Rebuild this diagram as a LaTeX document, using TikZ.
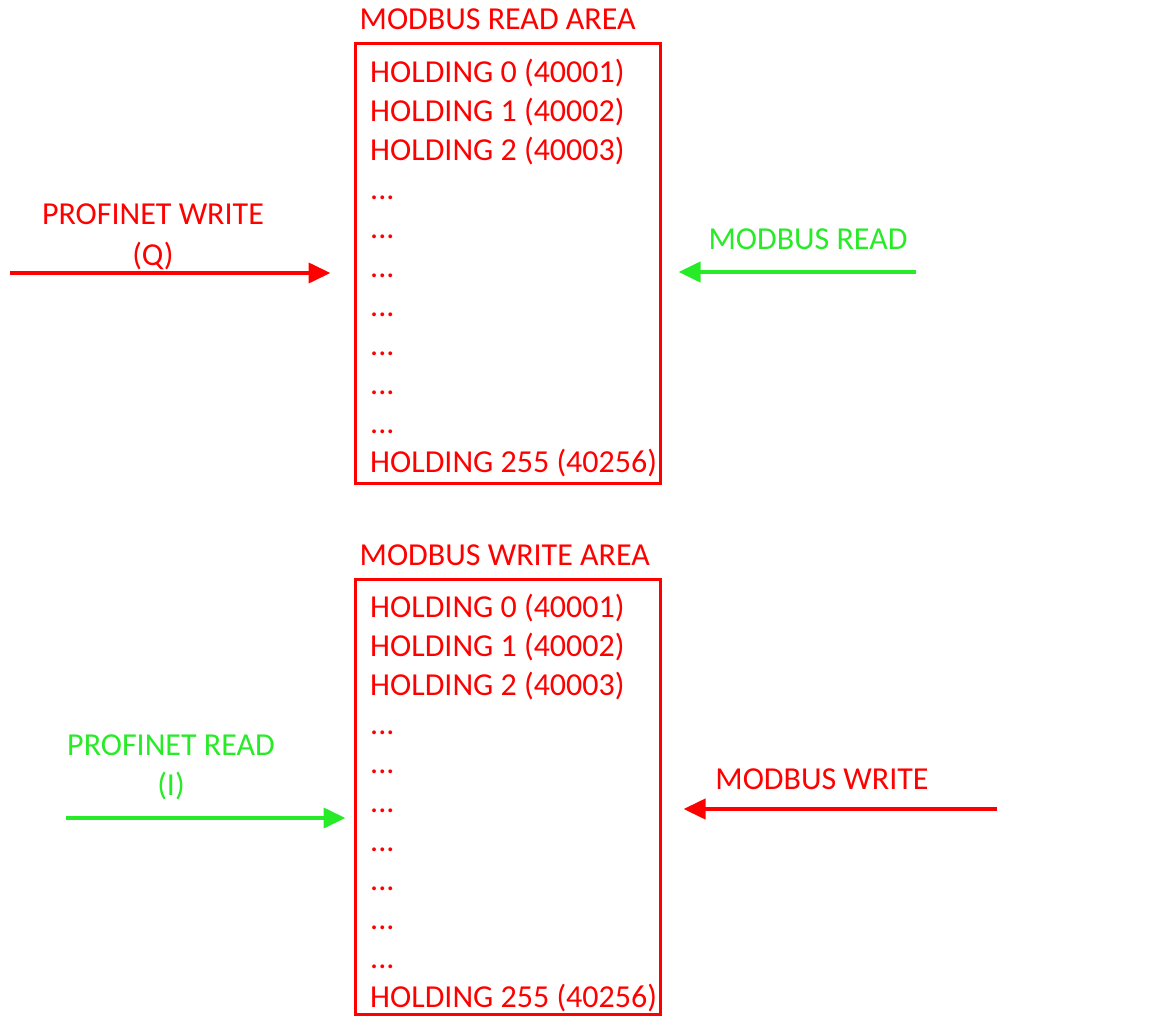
\documentclass[tikz,border=0pt]{standalone}
\usepackage{fontspec}
\setmainfont{Carlito}
\usetikzlibrary{arrows.meta,positioning,calc}
\definecolor{modred}{RGB}{255,0,0}
\definecolor{modgreen}{RGB}{40,235,40}
\tikzset{
  bigfont/.style={font=\fontsize{32}{39}\selectfont},
  areabox/.style={draw=modred, line width=3pt, minimum width=305pt, inner sep=0pt},
  arearows/.style={text=modred, bigfont, align=left, inner sep=0pt, anchor=north west},
  areatitle/.style={text=modred, bigfont, anchor=base west, inner sep=0pt},
  redlabel/.style={text=modred, bigfont, align=center, inner sep=0pt},
  greenlabel/.style={text=modgreen, bigfont, align=center, inner sep=0pt},
  redarrow/.style={draw=modred, line width=4pt, -{Triangle[length=22pt,width=20pt]}},
  greenarrow/.style={draw=modgreen, line width=4pt, -{Triangle[length=22pt,width=20pt]}}
}
\newcommand{\holdrows}{HOLDING 0 (40001)\\HOLDING 1 (40002)\\HOLDING 2 (40003)\\
  ...\\...\\...\\...\\...\\...\\...\\HOLDING 255 (40256)}

\begin{document}
\begin{tikzpicture}[x=1pt, y=-1pt]
  \useasboundingbox (0,0) rectangle (1161,1016);

  % read area
  \node[areabox, minimum height=439pt] (readbox) at (507.5,263.5) {};
  \node[arearows, xshift=16.5pt, yshift=-16pt] (readrows) at (readbox.north west) {\holdrows};
  \node[areatitle, xshift=6pt, yshift=13pt] (readtitle) at (readbox.north west) {MODBUS READ AREA};

  % write area
  \node[areabox, minimum height=435pt] (writebox) at (507.5,796.5) {};
  \node[arearows, xshift=16.5pt, yshift=-16pt] (writerows) at (writebox.north west) {\holdrows};
  \node[areatitle, xshift=6pt, yshift=12.5pt] (writetitle) at (writebox.north west) {MODBUS WRITE AREA};

  % profinet side
  \coordinate (pwstart) at (10,273);
  \draw[redarrow, shorten >=23pt] (pwstart) -- (pwstart -| readbox.west);
  \node[redlabel] (pwlabel) at (153,237) {PROFINET WRITE\\[2pt](Q)};

  \coordinate (prstart) at (66,818);
  \draw[greenarrow, shorten >=8pt] (prstart) -- (prstart -| writebox.west);
  \node[greenlabel] (prlabel) at (171,767) {PROFINET READ\\[1pt](I)};

  % modbus side
  \coordinate (mrstart) at (916,272);
  \draw[greenarrow, shorten >=17pt] (mrstart) -- (mrstart -| readbox.east);
  \node[greenlabel, anchor=base] (mrlabel) at (808,249.5) {MODBUS READ};

  \coordinate (mwstart) at (997,809);
  \draw[redarrow, shorten >=22pt] (mwstart) -- (mwstart -| writebox.east);
  \node[redlabel, anchor=base] (mwlabel) at (822,789.5) {MODBUS WRITE};
\end{tikzpicture}
\end{document}
